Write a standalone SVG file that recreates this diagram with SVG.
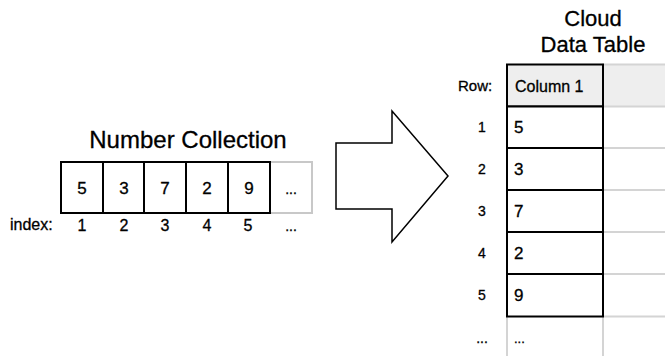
<svg xmlns="http://www.w3.org/2000/svg" width="665" height="356" viewBox="0 0 665 356">
<style>
text{font-family:"Liberation Sans",Arial,sans-serif;fill:#000;stroke:#000;stroke-width:0.3}
.box{fill:#fff;stroke:#000;stroke-width:2}
.gbox{fill:none;stroke:#c8c8c8;stroke-width:2}
.gl{stroke:#d4d4d4;stroke-width:2;fill:none}
.title{font-size:22px;text-anchor:middle}
.num{font-size:17px;text-anchor:middle}
.idx{font-size:16px;text-anchor:middle}
.rn{font-size:14px;text-anchor:middle}
.val{font-size:17px}
</style>
<rect width="665" height="356" fill="#fff"/>
<g id="collection">
<text class="title" x="188" y="148" style="font-size:24px">Number Collection</text>
<rect class="gbox" x="270" y="162" width="42" height="51"/>
<rect class="box" x="61" y="162" width="42" height="51"/>
<rect class="box" x="103" y="162" width="41" height="51"/>
<rect class="box" x="144" y="162" width="42" height="51"/>
<rect class="box" x="186" y="162" width="42" height="51"/>
<rect class="box" x="228" y="162" width="42" height="51"/>
<text class="num" x="82" y="194">5</text>
<text class="num" x="124" y="194">3</text>
<text class="num" x="165" y="194">7</text>
<text class="num" x="207" y="194">2</text>
<text class="num" x="249" y="194">9</text>
<text class="num" x="291" y="194" style="font-size:14px">...</text>
<text x="10" y="230" style="font-size:16px">index:</text>
<text class="idx" x="82" y="231">1</text>
<text class="idx" x="124" y="231">2</text>
<text class="idx" x="165" y="231">3</text>
<text class="idx" x="207" y="231">4</text>
<text class="idx" x="248" y="231">5</text>
<text class="idx" x="291" y="231" style="font-size:14px">...</text>
</g>
<g id="connectors">
<polygon points="336,143 392,143 392,111 448,176 392,242 392,209 336,209" fill="#fff" stroke="#000" stroke-width="1.5" stroke-linejoin="miter"/>
</g>
<g id="table">
<text class="title" x="593" y="26">Cloud</text>
<text class="title" x="593" y="52">Data Table</text>
<rect x="603" y="64.5" width="70" height="42" fill="#eeeeee" stroke="#d4d4d4" stroke-width="2"/>
<line class="gl" x1="603" y1="148" x2="665" y2="148"/>
<line class="gl" x1="603" y1="190" x2="665" y2="190"/>
<line class="gl" x1="603" y1="232" x2="665" y2="232"/>
<line class="gl" x1="603" y1="274" x2="665" y2="274"/>
<line class="gl" x1="603" y1="316.5" x2="665" y2="316.5"/>
<line class="gl" x1="507" y1="316.5" x2="507" y2="356"/>
<line class="gl" x1="603" y1="316.5" x2="603" y2="356"/>
<rect class="box" x="507" y="64.5" width="96" height="42" style="fill:#eeeeee"/>
<rect class="box" x="507" y="106.5" width="96" height="41.5"/>
<rect class="box" x="507" y="148" width="96" height="42"/>
<rect class="box" x="507" y="190" width="96" height="42"/>
<rect class="box" x="507" y="232" width="96" height="42"/>
<rect class="box" x="507" y="274" width="96" height="42.5"/>
<text x="458" y="91" style="font-size:15px">Row:</text>
<text x="515" y="92" style="font-size:16px">Column 1</text>
<text class="rn" x="482" y="132">1</text>
<text class="rn" x="482" y="174">2</text>
<text class="rn" x="482" y="216">3</text>
<text class="rn" x="482" y="258">4</text>
<text class="rn" x="482" y="300">5</text>
<text class="rn" x="482" y="343">...</text>
<text class="val" x="514" y="133">5</text>
<text class="val" x="514" y="175">3</text>
<text class="val" x="514" y="217">7</text>
<text class="val" x="514" y="259">2</text>
<text class="val" x="514" y="301">9</text>
<text class="val" x="514" y="343" style="font-size:13px">...</text>
</g>
</svg>
